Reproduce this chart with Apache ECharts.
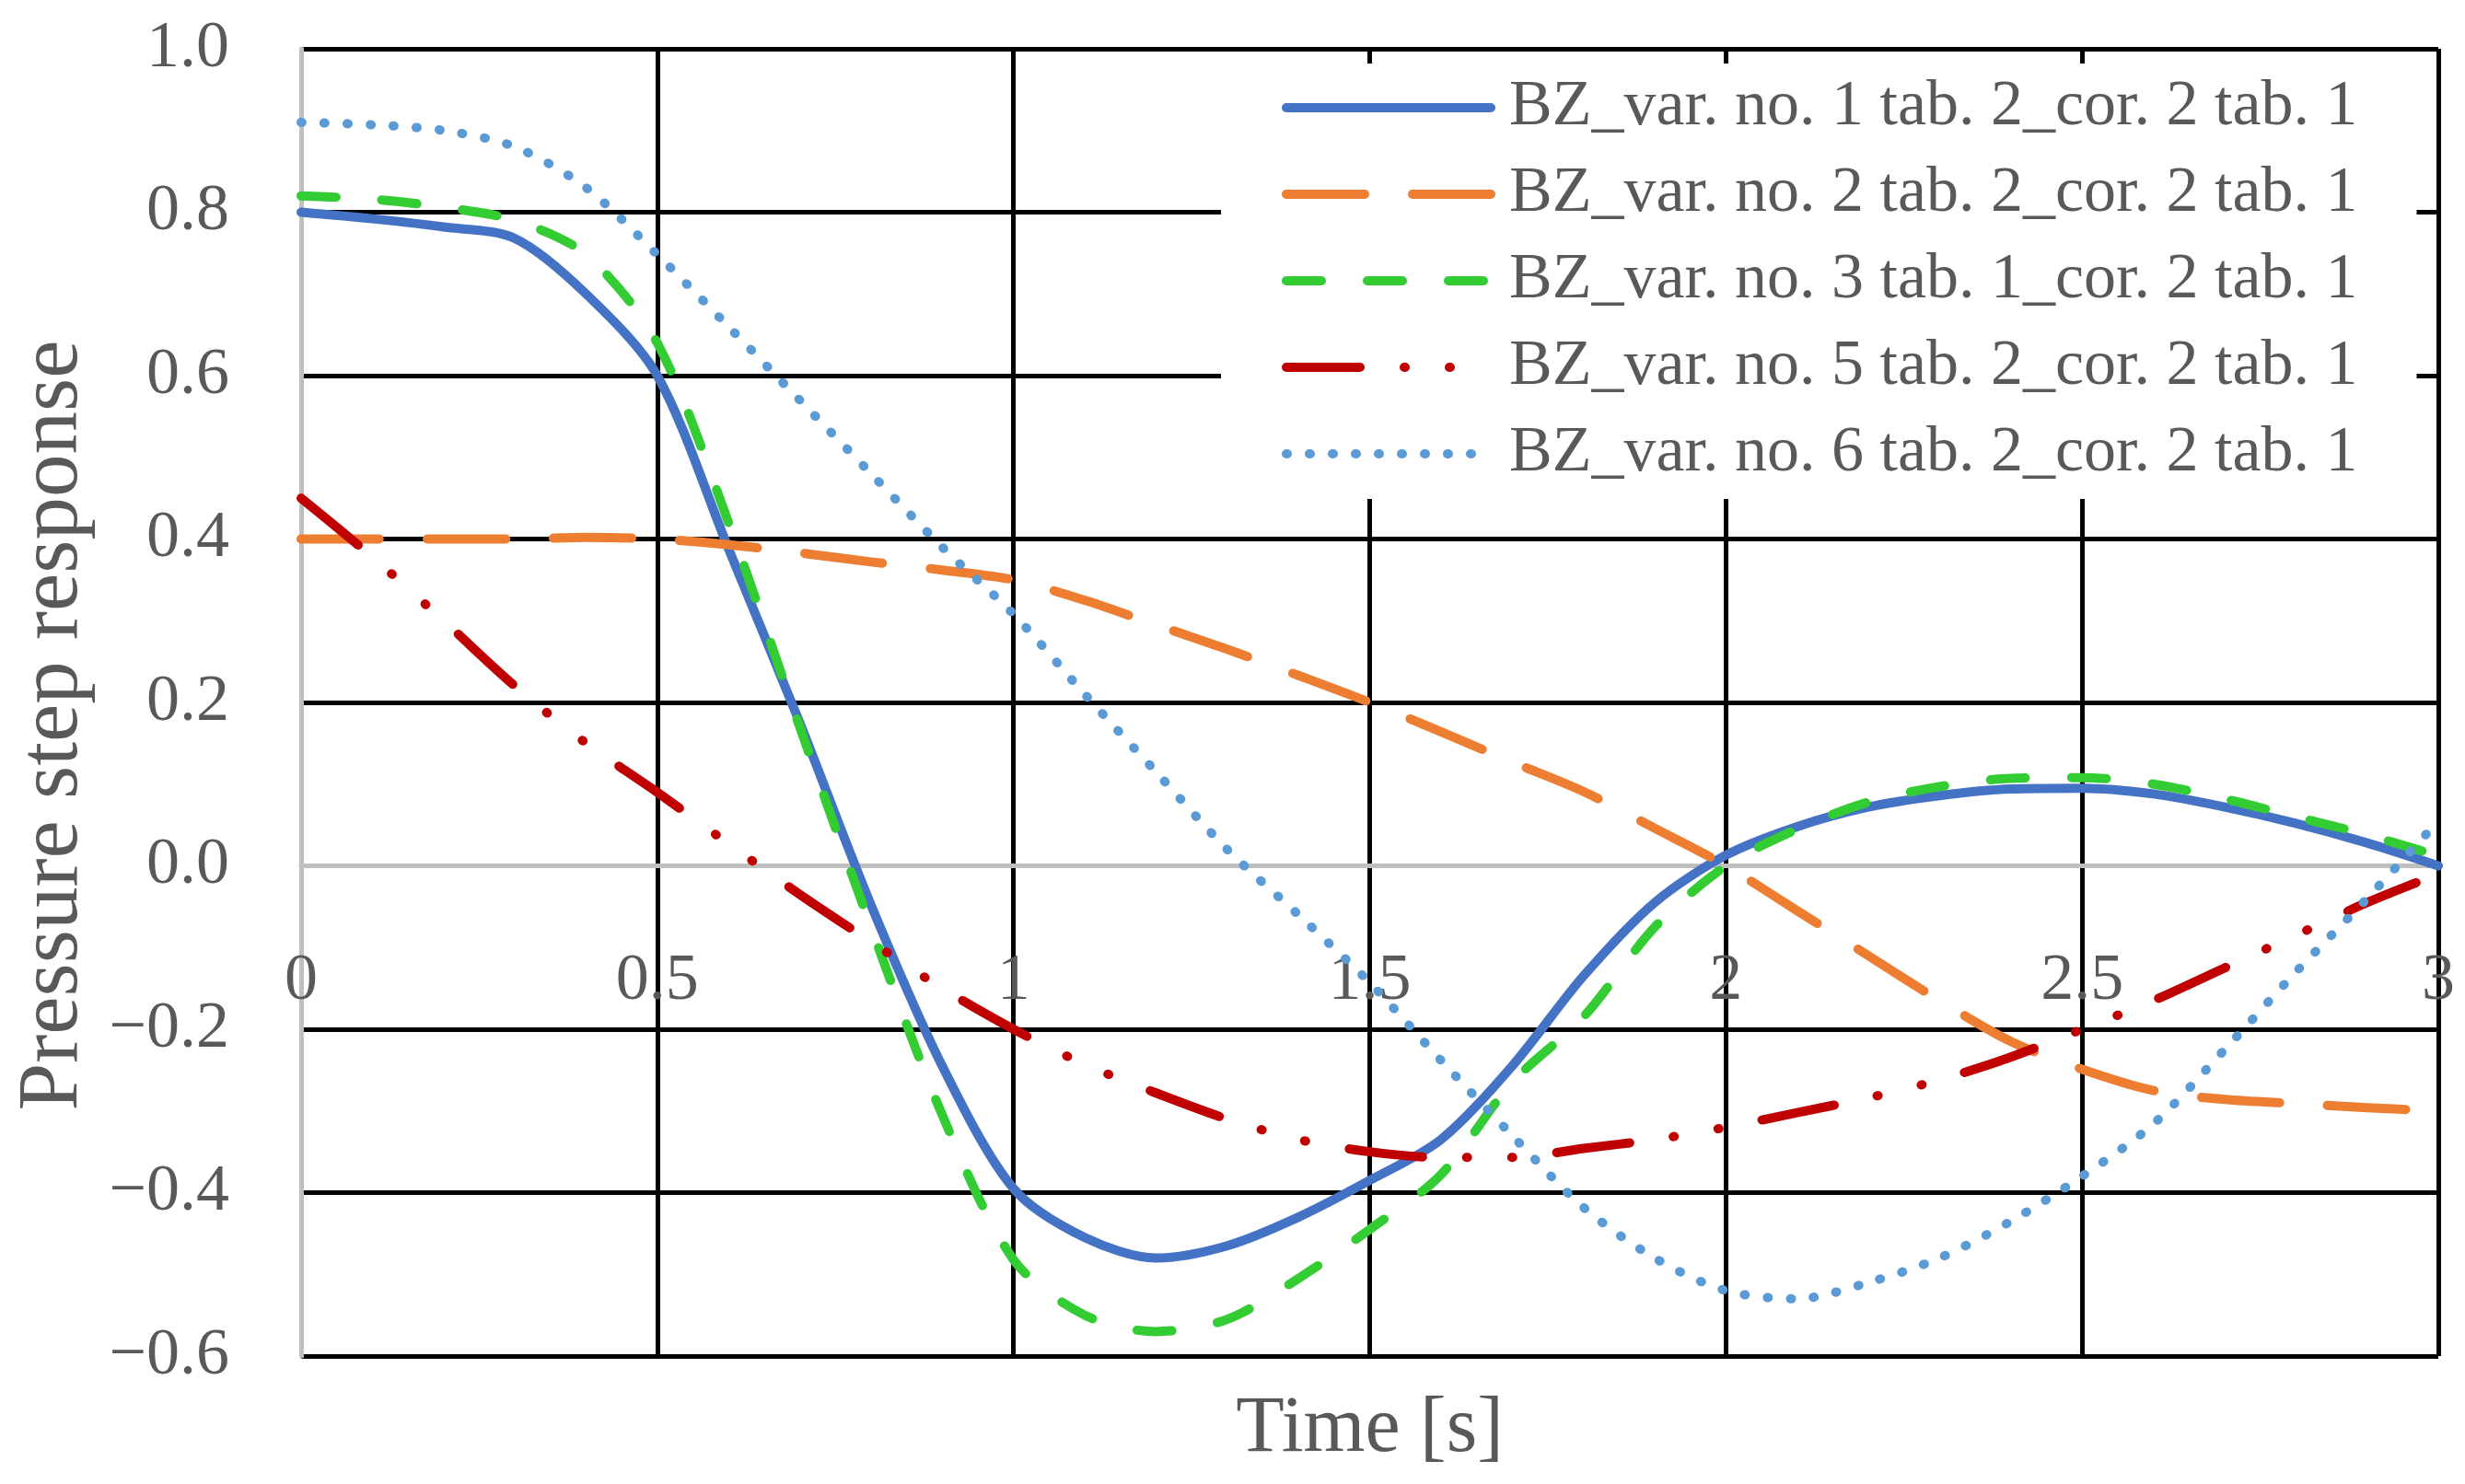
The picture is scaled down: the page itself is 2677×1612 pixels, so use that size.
<!DOCTYPE html>
<html>
<head>
<meta charset="utf-8">
<title>Pressure step response</title>
<script src="https://cdn.jsdelivr.net/npm/echarts@6/dist/echarts.min.js"></script>
<style>
  html, body { margin: 0; padding: 0; background: #fff; }
  #main { width: 2677px; height: 1612px; }
</style>
</head>
<body>
<div id="main"></div>
<script>
// time axis [s]
var times = [0, 0.1, 0.2, 0.3, 0.4, 0.5, 0.6, 0.7, 0.8, 0.9, 1.0,
             1.1, 1.2, 1.3, 1.4, 1.5, 1.6, 1.7, 1.8, 1.9, 2.0,
             2.1, 2.2, 2.3, 2.4, 2.5, 2.6, 2.7, 2.8, 2.9, 3.0];

var var1 = [0.800, 0.792, 0.782, 0.768, 0.700, 0.600, 0.388, 0.175, -0.048, -0.245, -0.395,
            -0.455, -0.480, -0.465, -0.430, -0.385, -0.335, -0.245, -0.135, -0.045, 0.013,
            0.048, 0.072, 0.086, 0.094, 0.095, 0.088, 0.072, 0.052, 0.028, 0.000];

var var2 = [0.400, 0.400, 0.400, 0.400, 0.402, 0.400, 0.393, 0.383, 0.372, 0.362, 0.350,
            0.325, 0.295, 0.265, 0.233, 0.200, 0.164, 0.127, 0.091, 0.046, 0.000,
            -0.055, -0.110, -0.165, -0.215, -0.249, -0.275, -0.286, -0.291, -0.296, -0.300];

var var3 = [0.820, 0.816, 0.806, 0.790, 0.748, 0.640, 0.420, 0.170, -0.075, -0.305, -0.482,
            -0.550, -0.570, -0.555, -0.505, -0.445, -0.378, -0.265, -0.185, -0.075, 0.000,
            0.045, 0.078, 0.097, 0.107, 0.108, 0.100, 0.082, 0.060, 0.038, 0.012];

var var5 = [0.450, 0.378, 0.300, 0.220, 0.150, 0.090, 0.027, -0.035, -0.093, -0.150, -0.200,
            -0.243, -0.278, -0.310, -0.335, -0.350, -0.357, -0.357, -0.346, -0.335, -0.320,
            -0.302, -0.284, -0.262, -0.234, -0.200, -0.165, -0.125, -0.085, -0.045, -0.010];

var var6 = [0.910, 0.907, 0.900, 0.880, 0.830, 0.748, 0.660, 0.570, 0.480, 0.390, 0.308,
            0.210, 0.115, 0.020, -0.060, -0.143, -0.238, -0.330, -0.418, -0.480, -0.520,
            -0.530, -0.510, -0.480, -0.435, -0.380, -0.316, -0.225, -0.130, -0.040, 0.055];

var names = ['BZ_var. no. 1 tab. 2_cor. 2 tab. 1',
             'BZ_var. no. 2 tab. 2_cor. 2 tab. 1',
             'BZ_var. no. 3 tab. 1_cor. 2 tab. 1',
             'BZ_var. no. 5 tab. 2_cor. 2 tab. 1',
             'BZ_var. no. 6 tab. 2_cor. 2 tab. 1'];

var FONT = "'Liberation Serif', 'DejaVu Serif', serif";
var TXT = '#595959';
var GRAY = '#BFBFBF';

// plot box in px, the x axis sits on y = 0
var gridTop = 53, gridBottom = 139, yMin = -0.6, yMax = 1.0;
var plotH = 1612 - gridTop - gridBottom;
var zeroOffset = -plotH * (0 - yMin) / (yMax - yMin);

function pairs(vals) {
    return times.map(function (t, i) { return [t, vals[i]]; });
}

function makeSeries(name, vals, color, dash, width) {
    return {
        name: name,
        type: 'line',
        data: pairs(vals),
        smooth: 0.3,
        symbol: 'none',
        showSymbol: false,
        lineStyle: { color: color, width: width, type: dash, cap: 'round', join: 'round' },
        itemStyle: { color: color },
        emphasis: { disabled: true }
    };
}

var option = {
    animation: false,
    backgroundColor: '#fff',
    grid: { left: 327, right: 29, top: gridTop, bottom: gridBottom, containLabel: false, outerBoundsMode: 'none' },
    legend: {
        data: names,
        orient: 'vertical',
        left: 1326,
        top: 69,
        padding: [13, 64, 14, 66],
        backgroundColor: '#fff',
        itemWidth: 222,
        itemHeight: 20,
        itemGap: 24,
        itemStyle: { opacity: 0 },
        lineStyle: { width: 10 },
        textStyle: { fontFamily: FONT, fontSize: 70, color: TXT, padding: [0, 0, 0, 15] },
        selectedMode: false
    },
    xAxis: {
        type: 'value',
        min: 0,
        max: 3,
        interval: 0.5,
        offset: zeroOffset,
        name: 'Time [s]',
        nameLocation: 'middle',
        nameGap: 570,
        nameTextStyle: { fontFamily: FONT, fontSize: 86, color: TXT },
        axisLine: { show: true, onZero: false, lineStyle: { color: GRAY, width: 5 } },
        axisTick: { show: false },
        axisLabel: { fontFamily: FONT, fontSize: 72, color: TXT, margin: 90 },
        splitLine: { show: true, lineStyle: { color: [GRAY, '#000', '#000', '#000', '#000', '#000', '#000'], width: 5 } }
    },
    yAxis: {
        type: 'value',
        min: yMin,
        max: yMax,
        interval: 0.2,
        name: 'Pressure step response',
        nameLocation: 'middle',
        nameGap: 222,
        nameTextStyle: { fontFamily: FONT, fontSize: 93, color: TXT, padding: [0, 50, 0, 0] },
        axisLine: { show: true, onZero: false, lineStyle: { color: GRAY, width: 5 } },
        axisTick: { show: false },
        axisLabel: {
            fontFamily: FONT, fontSize: 72, color: TXT, margin: 78,
            formatter: function (v) {
                if (Math.abs(v) < 1e-9) return '0.0';
                return (v < 0 ? '\u2212' : '') + Math.abs(v).toFixed(1);
            }
        },
        splitLine: { show: true, lineStyle: { color: ['#000', '#000', '#000', GRAY, '#000', '#000', '#000', '#000', '#000'], width: 5 } }
    },
    series: [
        makeSeries(names[0], var1, '#4472C4', 'solid', 10),
        makeSeries(names[1], var2, '#ED7D31', [85, 52], 10),
        makeSeries(names[2], var3, '#33CC33', [38, 50], 10),
        makeSeries(names[3], var5, '#C00000', [80, 48, 1, 48, 1, 48], 10),
        makeSeries(names[4], var6, '#5B9BD5', [1, 24], 10)
    ]
};

var myChart = echarts.init(document.getElementById('main'));
myChart.setOption(option);
</script>
</body>
</html>
